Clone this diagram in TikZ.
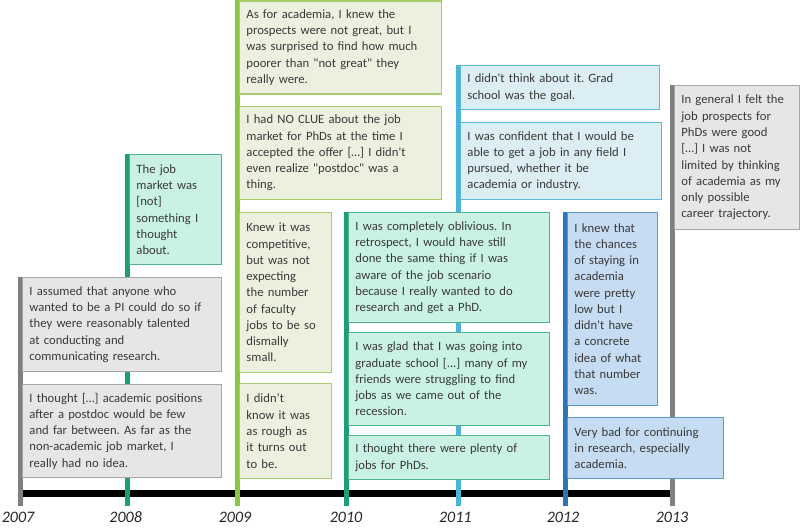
\documentclass[tikz,border=0pt]{standalone}
\usepackage{fontspec}
\setmainfont{Carlito}[Ligatures=TeXOff]
\usetikzlibrary{positioning,backgrounds}
\frenchspacing
\definecolor{txt}{HTML}{3A3A3A}
\definecolor{grayline}{HTML}{7F7F7F}
\definecolor{grayfill}{HTML}{E6E6E6}
\definecolor{grayedge}{HTML}{A6A6A6}
\definecolor{tealline}{HTML}{1E9E78}
\definecolor{tealfill}{HTML}{C9F2E3}
\definecolor{tealedge}{HTML}{4FB496}
\definecolor{limeline}{HTML}{8DC63F}
\definecolor{limefill}{HTML}{EBF1DE}
\definecolor{limeedge}{HTML}{A9CC6E}
\definecolor{skyline}{HTML}{4BB4D7}
\definecolor{skyfill}{HTML}{DAEEF3}
\definecolor{skyedge}{HTML}{5BB8D8}
\definecolor{blueline}{HTML}{2E75B6}
\definecolor{bluefill}{HTML}{C5DCF2}
\definecolor{blueedge}{HTML}{5B9BD5}

\begin{document}
\begin{tikzpicture}[
    x=0.75pt, y=-0.75pt,
    quote/.style={
        anchor=north west, align=left,
        line width=0.9pt,
        inner xsep=5.5pt, inner ysep=0pt,
        text=txt,
        font=\fontsize{9.5}{12.2}\selectfont
    },
    graybox/.style={quote, fill=grayfill, draw=grayedge},
    tealbox/.style={quote, fill=tealfill, draw=tealedge},
    limebox/.style={quote, fill=limefill, draw=limeedge},
    skybox/.style={quote, fill=skyfill, draw=skyedge},
    bluebox/.style={quote, fill=bluefill, draw=blueedge},
    yearline/.style={line width=3.75pt},
    axis/.style={line width=5.25pt, black},
    year/.style={font=\fontsize{12}{14}\selectfont\itshape, text=black!85}
]
\useasboundingbox (0,0) rectangle (800,528);

\coordinate (t07) at (20,506);
\coordinate (t08) at (127,506);
\coordinate (t09) at (237,506);
\coordinate (t10) at (346,506);
\coordinate (t11) at (458,506);
\coordinate (t12) at (565,506);
\coordinate (t13) at (672,506);
\coordinate (a07) at (20,493);
\coordinate (a13) at (672,493);

% 2007
\node[graybox, text width=138.6pt, minimum height=70.5pt] (a1) at (21.5,277)
  {I assumed that anyone who\\ wanted to be a PI could do so if\\ they were reasonably talented\\ at conducting and\\ communicating research.};
\node[graybox, text width=138.6pt, minimum height=69.75pt] (a2) at (21.5,384)
  {I thought […] academic positions\\ after a postdoc would be few\\ and far between. As far as the\\ non-academic job market, I\\ really had no idea.};

% 2008
\node[tealbox, text width=58.4pt, minimum height=82.5pt] (b1) at (128.5,154)
  {The job\\ market was\\ {[not]}\\ something I\\ thought\\ about.};

% 2009
\node[limebox, text width=140.9pt, minimum height=69.75pt] (c1) at (238.5,0.5)
  {As for academia, I knew the\\ prospects were not great, but I\\ was surprised to find how much\\ poorer than "not great" they\\ really were.};
\node[limebox, text width=140.9pt, minimum height=69.75pt] (c2) at (238.5,106)
  {I had NO CLUE about the job\\ market for PhDs at the time I\\ accepted the offer […] I didn't\\ even realize "postdoc" was a\\ thing.};
\node[limebox, text width=58.4pt, minimum height=120pt] (c3) at (238.5,212)
  {Knew it was\\ competitive,\\ but was not\\ expecting\\ the number\\ of faculty\\ jobs to be so\\ dismally\\ small.};
\node[limebox, text width=58.4pt, minimum height=71.25pt] (c4) at (238.5,383)
  {I didn’t\\ know it was\\ as rough as\\ it turns out\\ to be.};

% 2010
\node[tealbox, text width=140.1pt, minimum height=82.5pt] (d1) at (347.5,212)
  {I was completely oblivious. In\\ retrospect, I would have still\\ done the same thing if I was\\ aware of the job scenario\\ because I really wanted to do\\ research and get a PhD.};
\node[tealbox, text width=140.1pt, minimum height=69.75pt] (d2) at (347.5,332)
  {I was glad that I was going into\\ graduate school [...] many of my\\ friends were struggling to find\\ jobs as we came out of the\\ recession.};
\node[tealbox, text width=140.1pt, minimum height=33pt] (d3) at (347.5,435)
  {I thought there were plenty of\\ jobs for PhDs.};

% 2011
\node[skybox, text width=138.6pt, minimum height=33pt] (e1) at (459.5,65)
  {I didn't think about it. Grad\\ school was the goal.};
\node[skybox, text width=140.1pt, minimum height=57.75pt] (e2) at (459.5,122)
  {I was confident that I would be\\ able to get a job in any field I\\ pursued, whether it be\\ academia or industry.};

% 2012
\node[bluebox, text width=56.9pt, minimum height=144.75pt] (f1) at (566.5,212)
  {I knew that\\ the chances\\ of staying in\\ academia\\ were pretty\\ low but I\\ didn't have\\ a concrete\\ idea of what\\ that number\\ was.};
\node[bluebox, text width=106.4pt, minimum height=45.75pt] (f2) at (566.5,417)
  {Very bad for continuing\\ in research, especially\\ academia.};

% 2013
\node[graybox, text width=83pt, minimum height=108pt] (g1) at (673.5,85)
  {In general I felt the\\ job prospects for\\ PhDs were good\\ {[…]} I was not\\ limited by thinking\\ of academia as my\\ only possible\\ career trajectory.};

\begin{scope}[on background layer]
\draw[axis] (a07) -- (a13);
\draw[yearline, grayline] ([xshift=-1.125pt]a1.north west) -- (t07);
\draw[yearline, tealline] ([xshift=-1.125pt]b1.north west) -- (t08);
\draw[yearline, limeline] ([xshift=-1.125pt]c1.north west) -- (t09);
\draw[yearline, tealline] ([xshift=-1.125pt]d1.north west) -- (t10);
\draw[yearline, skyline] ([xshift=-1.125pt]e1.north west) -- (t11);
\draw[yearline, blueline] ([xshift=-1.125pt]f1.north west) -- (t12);
\draw[yearline, grayline] ([xshift=-1.125pt]g1.north west) -- (t13);
\end{scope}

\node[year, below=1pt of t07, xshift=-1.5pt] (y07) {2007};
\node[year, below=1pt of t08, xshift=-1pt] (y08) {2008};
\node[year, below=1pt of t09, xshift=-1.5pt] (y09) {2009};
\node[year, below=1pt of t10] (y10) {2010};
\node[year, below=1pt of t11, xshift=-2pt] (y11) {2011};
\node[year, below=1pt of t12, xshift=-1.5pt] (y12) {2012};
\node[year, below=1pt of t13] (y13) {2013};
\end{tikzpicture}
\end{document}
